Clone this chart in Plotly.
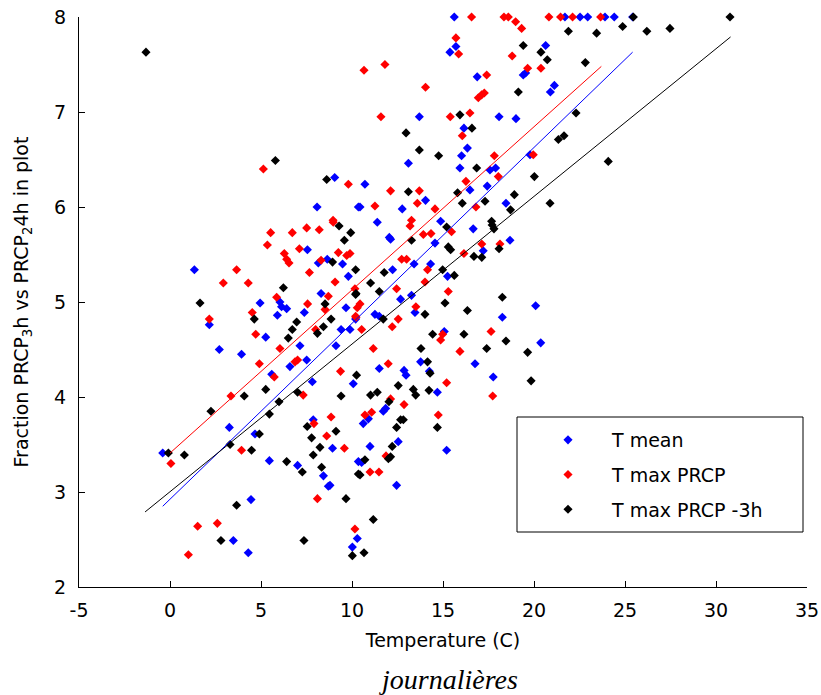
import plotly.graph_objects as go

# ---- data ----
mean_x = [15.62,21.7,22.53,22.95,23.9,24.41,25.42,15.71,15.38,20.64,19.41,19.54,16.88,21.12,20.9,
          13.7,18.08,19.01,16.15,16.34,13.1,16.02,19.78,15.93,17.58,17.89,10.71,17.43,16.48,14.04,18.46,
          10.44,12.76,9.05,8.08,10.35,7.55,8.64,9.48,8.15,1.34,9.8,8.3,4.95,6.04,6.13,6.41,9.67,5.9,7.38,
          2.16,10.2,5.26,9.4,9.89,7.14,9.12,2.71,3.93,7.51,6.59,5.59,7.82,10.07,
          11.39,14.87,16.66,12.05,12.12,14.56,17.21,18.68,13.41,14.32,12.23,15.25,12.67,13.27,20.09,13.46,
          11.26,11.5,18.26,15.07,20.37,13.77,16.76,11.5,12.86,12.97,14.25,17.76,14.69,
          3.26,7.87,4.67,-0.4,8.93,5.46,7.01,8.43,10.35,8.7,8.79,4.45,3.48,4.3,10.29,10.02,
          10.62,10.9,10.99,10.53,11.72,11.85,12.54,15.2,12.45]
mean_y = [8.0,8.0,8.0,8.0,8.0,8.0,8.0,7.69,7.63,7.7,7.39,7.41,7.37,7.28,7.21,
          6.95,6.95,6.93,6.83,6.62,6.46,6.54,6.55,6.41,6.39,6.41,6.24,6.22,6.18,6.07,6.04,
          6.0,5.98,6.31,6.0,6.0,5.55,5.45,5.4,5.41,5.34,5.27,5.09,4.99,5.0,4.95,4.93,4.94,4.86,4.89,
          4.76,4.82,4.63,4.71,4.71,4.54,4.54,4.5,4.45,4.39,4.32,4.24,4.16,4.14,
          5.84,5.85,5.77,5.68,5.66,5.62,5.54,5.65,5.4,5.4,5.34,5.27,5.03,5.07,4.96,4.89,
          4.87,4.85,4.84,4.69,4.57,4.37,4.35,4.3,4.28,4.23,4.27,4.21,4.05,
          3.68,3.76,3.61,3.41,3.46,3.33,3.28,3.17,3.32,3.06,3.07,2.92,2.49,2.36,2.51,2.42,
          3.72,3.77,3.48,3.31,3.85,3.88,3.53,3.44,3.07]

maxp_x = [16.57,18.35,18.59,18.99,19.32,20.82,21.46,22.12,23.66,15.71,15.86,18.8,10.66,11.81,19.65,20.38,
          17.4,14.04,16.94,17.12,17.27,11.59,15.4,16.48,16.06,17.82,19.96,18.04,16.26,12.12,13.7,13.59,
          11.26,14.56,16.81,5.13,9.8,8.96,8.97,7.51,6.72,5.53,8.2,5.35,7.11,6.28,6.41,6.54,9.25,9.71,9.89,
          8.3,3.66,7.66,2.93,4.3,9.07,10.16,8.7,5.86,7.56,8.52,10.29,4.52,2.16,10.2,8.0,4.71,6.04,6.87,
          7.01,4.91,5.73,9.37,3.35,7.32,13.27,13.19,15.47,13.92,14.34,17.13,18.13,12.73,13.0,16.15,14.15,
          14.01,12.45,15.29,10.44,13.51,10.22,12.54,12.21,10.53,14.98,14.87,17.64,11.17,15.93,11.99,15.2,
          17.73,12.12,7.91,8.85,8.61,0.05,3.93,9.58,8.1,1.52,2.6,1.01,10.16,10.71,11.08,10.99,11.48,12.86,
          14.74,11.87]
maxp_y = [8.0,8.0,8.0,7.95,7.88,8.0,8.0,8.0,8.0,7.78,7.61,7.59,7.44,7.5,7.46,7.46,
          7.39,7.26,7.15,7.18,7.2,6.95,6.95,6.99,6.75,6.54,6.55,6.32,6.27,6.17,6.17,6.04,
          6.01,5.98,6.0,6.4,6.24,5.86,5.84,5.78,5.73,5.73,5.76,5.6,5.56,5.51,5.45,5.41,5.52,5.49,5.51,
          5.44,5.34,5.31,5.2,5.2,5.21,5.14,5.06,5.05,4.98,4.92,4.94,4.89,4.82,4.85,4.71,4.66,4.51,4.37,
          4.39,4.35,4.21,4.27,4.01,4.02,5.86,5.8,5.74,5.71,5.72,5.61,5.61,5.45,5.45,5.51,5.34,
          5.21,5.14,5.11,4.98,4.95,4.84,4.82,4.74,4.71,4.66,4.6,4.69,4.51,4.48,4.35,4.15,
          4.01,3.98,3.72,3.79,3.59,3.3,3.44,3.46,2.93,2.64,2.67,2.34,2.61,3.81,3.84,3.21,3.21,3.92,
          3.81,3.38]

max3_x = [25.46,24.87,21.89,23.44,26.2,30.77,27.47,-1.32,5.79,8.61,19.41,20.38,20.73,22.82,19.14,15.93,
          22.31,12.97,16.59,21.34,21.65,13.7,14.76,24.08,16.85,20.02,13.1,15.8,18.92,16.06,17.31,20.88,
          18.71,9.29,9.93,9.58,8.93,10.2,6.23,10.2,1.65,8.52,4.63,6.96,8.85,6.72,8.43,8.1,6.5,10.25,5.26,
          7.01,4.08,9.4,15.2,17.67,17.7,17.8,13.27,15.29,15.42,18.08,16.7,17.13,11.77,14.98,15.62,11.02,
          10.22,11.5,15.11,18.26,14.01,16.34,11.72,14.43,16.15,18.46,13.79,17.4,19.65,14.15,14.29,19.84,
          12.54,13.37,13.5,14.23,11.02,11.39,2.25,5.46,5.99,7.54,9.12,4.91,7.78,-0.09,0.79,3.3,4.48,8.24,
          7.87,6.41,7.27,8.33,10.35,9.67,3.66,2.8,7.36,10.02,10.66,11.17,10.71,10.44,12.03,12.67,12.82,
          12.45,14.69,12.21,12.0,12.12]
max3_y = [8.0,7.9,7.85,7.83,7.85,8.0,7.88,7.63,6.49,6.29,7.7,7.63,7.55,7.52,7.21,6.97,
          6.99,6.78,6.83,6.71,6.75,6.6,6.54,6.48,6.41,6.32,6.16,6.15,6.13,6.04,6.06,6.04,
          5.97,5.8,5.73,5.65,5.42,5.34,5.15,5.08,4.99,4.98,4.82,4.79,4.82,4.71,4.74,4.67,4.62,4.23,4.08,
          4.05,4.01,4.01,5.79,5.85,5.81,5.77,5.65,5.58,5.55,5.56,5.48,5.47,5.31,5.34,5.28,5.2,
          5.09,5.11,4.99,5.05,4.87,4.91,4.82,4.66,4.66,4.59,4.51,4.51,4.47,4.37,4.25,4.17,
          4.12,4.08,4.02,4.07,4.02,4.05,3.85,3.82,3.95,3.69,3.64,3.61,3.57,3.41,3.39,3.5,3.44,3.47,
          3.39,3.32,3.21,3.26,3.19,2.93,2.86,2.49,2.49,2.33,2.36,2.71,3.34,3.18,3.95,3.76,3.76,
          3.68,3.68,3.48,3.35,3.37]

# fitted lines (end points)
fit_mean_x = [-0.4, 25.42]
fit_mean_y = [2.85, 7.63]
fit_maxp_x = [0.0, 23.7]
fit_maxp_y = [3.41, 7.48]
fit_max3_x = [-1.37, 30.8]
fit_max3_y = [2.79, 7.79]

series_names = ["T mean", "T max PRCP", "T max PRCP -3h"]
x_ticks = [-5, 0, 5, 10, 15, 20, 25, 30, 35]
x_tick_labels = ["-5", "0", "5", "10", "15", "20", "25", "30", "35"]
y_ticks = [2, 3, 4, 5, 6, 7, 8]
y_tick_labels = ["2", "3", "4", "5", "6", "7", "8"]

FONT = "DejaVu Sans"
fig = go.Figure()
colors = ["#0000ff", "#ff0000", "#000000"]
pts = [(mean_x, mean_y), (maxp_x, maxp_y), (max3_x, max3_y)]
for i, ((xs, ys), name) in enumerate(zip(pts, series_names)):
    fig.add_trace(go.Scatter(x=xs, y=ys, mode="markers", name=name, legendgroup=name,
                             cliponaxis=False,
                             marker=dict(symbol="diamond", size=7, color=colors[i], line=dict(width=0))))
fits = [(fit_mean_x, fit_mean_y), (fit_maxp_x, fit_maxp_y), (fit_max3_x, fit_max3_y)]
for i, (fx, fy) in enumerate(fits):
    fig.add_trace(go.Scatter(x=fx, y=fy, mode="lines", showlegend=False, hoverinfo="skip",
                             line=dict(color=colors[i], width=1)))

W, H = 821, 695
L, R, T, B = 79, 14, 17, 108
pw, ph = W - L - R, H - T - B

def px(xp):
    return (xp - L) / pw

def py(yp):
    return (H - B - yp) / ph

axis_common = dict(showgrid=False, zeroline=False, showline=True, linecolor="black", linewidth=1,
                   ticks="inside", ticklen=6, tickcolor="black", tickwidth=1, mirror=False,
                   tickfont=dict(family=FONT, size=19, color="black"))
fig.update_xaxes(range=[-5, 35], tickvals=x_ticks, ticktext=x_tick_labels, ticklabelstandoff=6,
                 title=dict(text="Temperature (C)", font=dict(family=FONT, size=19, color="black"), standoff=13),
                 **axis_common)
fig.update_yaxes(range=[2, 8], tickvals=y_ticks, ticktext=y_tick_labels, ticklabelstandoff=8,
                 title=dict(text="Fraction PRCP<sub>3</sub>h vs PRCP<sub>2</sub>4h in plot",
                            font=dict(family=FONT, size=19, color="black"), standoff=20),
                 **axis_common)

fig.update_layout(
    width=W, height=H, autosize=False,
    margin=dict(l=L, r=R, t=T, b=B, autoexpand=False),
    paper_bgcolor="white", plot_bgcolor="white",
    showlegend=True,
    legend=dict(x=px(524), y=py(421), xanchor="left", yanchor="top",
                bgcolor="rgba(0,0,0,0)", borderwidth=0, itemwidth=78,
                traceorder="grouped", tracegroupgap=7,
                font=dict(family=FONT, size=19, color="black")),
    shapes=[dict(type="rect", xref="paper", yref="paper", x0=px(517), x1=px(803), y0=py(532), y1=py(417),
                 line=dict(color="black", width=1), fillcolor="rgba(0,0,0,0)")],
    annotations=[dict(text="journalières", xref="paper", yref="paper", x=px(448), y=py(679),
                      xanchor="center", yanchor="middle", showarrow=False,
                      font=dict(family="Liberation Serif", size=28, color="black", style="italic"))],
)

fig.write_html("out.html")
